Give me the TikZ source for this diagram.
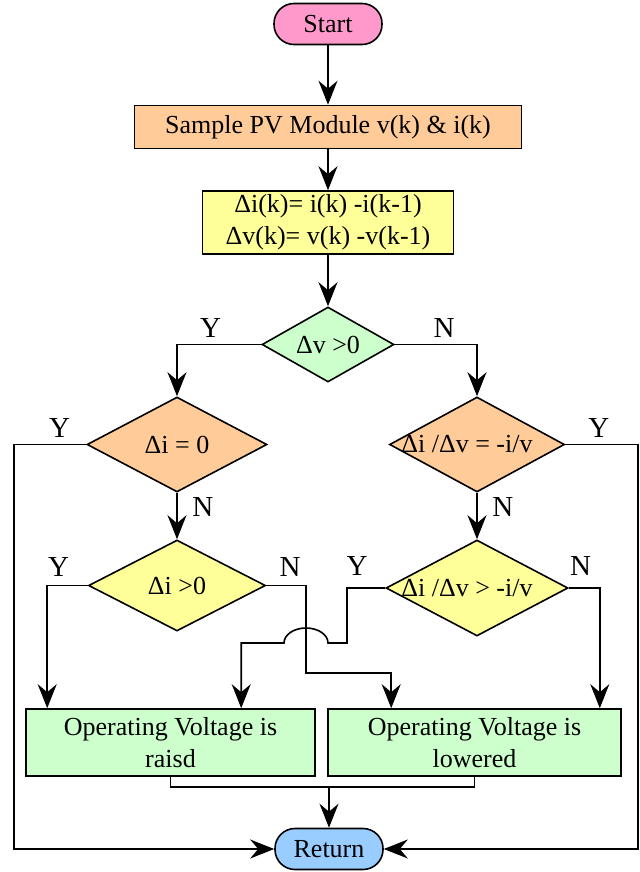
\documentclass[tikz,border=0pt]{standalone}
\usepackage{fontspec}
\setmainfont{Liberation Serif}
\usetikzlibrary{arrows.meta, positioning, shapes.geometric, calc}
\definecolor{termpink}{HTML}{FF99CC}
\definecolor{termblue}{HTML}{99CCFF}
\definecolor{steporange}{HTML}{FFCC99}
\definecolor{stepyellow}{HTML}{FFFF99}
\definecolor{stepgreen}{HTML}{CCFFCC}

\begin{document}
\begin{tikzpicture}[x=0.5pt, y=-0.5pt,
      font=\fontsize{13}{16}\selectfont,
      line width=0.8pt,
      term/.style={draw, rounded corners=10pt, minimum width=54pt,
        minimum height=20.5pt, inner sep=0pt},
      stepbox/.style={draw, minimum height=21.5pt, inner sep=0pt, align=center},
      decide/.style={draw, diamond, inner sep=0pt},
      yn/.style={font=\fontsize{14.5}{17}\selectfont},
      >={Stealth[length=12pt, width=9.5pt, inset=4pt]}
    ]
      \useasboundingbox (0,0) rectangle (639,872);

      % main column
      \node[term, fill=termpink] (start) at (328,24) {Start};
      \node[stepbox, fill=steporange, minimum width=193.5pt] (sample) at (328,127)
        {Sample PV Module v(k) \& i(k)};
      \node[stepbox, fill=stepyellow, minimum width=125.5pt, minimum height=31.5pt]
        (diff) at (328,222.5) {Δi(k)= i(k) -i(k-1)\\Δv(k)= v(k) -v(k-1)};
      \node[decide, fill=stepgreen, minimum width=66pt, minimum height=37.5pt]
        (dv) at (328,344.5) {\makebox[0pt]{Δv >0}};

      % decisions
      \node[decide, fill=steporange, minimum width=90pt, minimum height=47.5pt]
        (dizero) at (177,444.5) {\makebox[0pt]{Δi = 0}};
      \node[decide, fill=steporange, minimum width=87.5pt, minimum height=47.5pt]
        (dieq) at (477,444.5) {\makebox[0pt]{\hspace{-10pt}Δi /Δv = -i/v}};
      \node[decide, fill=stepyellow, minimum width=88.5pt, minimum height=45.5pt]
        (dipos) at (177,585.5) {\makebox[0pt]{Δi >0}};
      \node[decide, fill=stepyellow, minimum width=91pt, minimum height=48pt]
        (digt) at (477,588) {\makebox[0pt]{\hspace{-10pt}Δi /Δv > -i/v}};

      % outcomes
      \node[stepbox, fill=stepgreen, minimum width=144.5pt, minimum height=33.5pt]
        (raised) at (170.5,742.5) {Operating Voltage is\\raisd};
      \node[stepbox, fill=stepgreen, minimum width=146.5pt, minimum height=33.5pt]
        (lowered) at (474.5,742.5) {Operating Voltage is\\lowered};
      \node[term, fill=termblue] (ret) at (329,849) {Return};

      \coordinate (lrail) at (14,849);
      \coordinate (rrail) at (638,849);
      \coordinate (nbend) at (306,673);
      \coordinate (hop) at (306,643);
      \coordinate (merge) at (329,787);

      \draw[->] (start) -- (sample);
      \draw[->] (sample) -- (diff);
      \draw[->] (diff) -- (dv);
      \draw[->] (dv.west) -| (dizero.north) node[yn, pos=0.3, above] {Y};
      \draw[->] (dv.east) -| (dieq.north) node[yn, pos=0.3, above] {N};

      \draw[->] (dizero.west) -| (lrail) node[yn, pos=0.185, above=0pt] {Y} -- (ret.west);
      \draw[->] (dieq.east) -| (rrail) node[yn, pos=0.23, above=0pt] {Y} -- (ret.east);
      \draw[->] (dizero) -- (dipos) node[yn, pos=0.3, right=4pt] {N};
      \draw[->] (dieq) -- (digt) node[yn, pos=0.3, right=4pt] {N};

      \draw[->] (dipos.west) -| ($(raised.north west)+(22,0)$)
        node[yn, pos=0.36, above=1pt] {Y};
      \draw[->] (dipos.east) -| (nbend) node[yn, pos=0.3, above=1pt] {N}
        -| ($(lowered.north west)+(64,0)$);
      \draw[->] (digt.west) -| ($(hop)+(41,0)$) -- ($(hop)+(22,0)$)
        arc[start angle=0, end angle=180, x radius=11pt, y radius=7.5pt]
        -| ($(raised.north west)+(216,0)$);
      \path (digt.west) -- +(-28,0) node[yn, above=2.5pt] {Y};
      \draw[->] (digt.east) -| ($(lowered.north east)+(-22,0)$)
        node[yn, pos=0.19, above=2.5pt] {N};

      \draw (raised.south) |- (merge) -| (lowered.south);
      \draw[->] (merge) -- (ret);
    \end{tikzpicture}
\end{document}
